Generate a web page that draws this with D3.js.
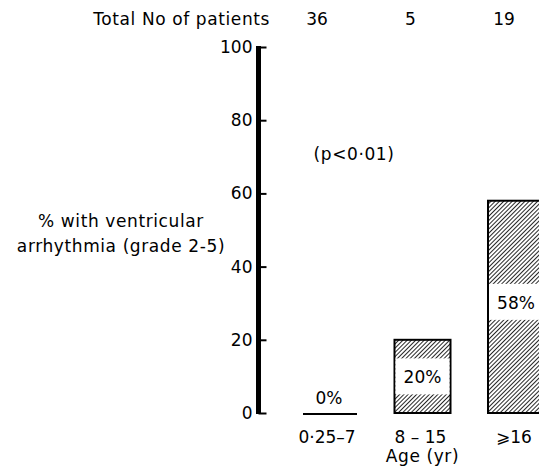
<!DOCTYPE html>
<html>
<head>
<meta charset="utf-8">
<script src="https://cdn.jsdelivr.net/npm/d3@7"></script>
<style>
	body { margin: 0; background: #fff; }
	text { font-family: "DejaVu Sans", sans-serif; fill: #000; font-size: 17px; }
	.words { letter-spacing: 0.6px; }
</style>
</head>
<body>
<div id="chart"></div>
<script>
// data
const ageGroups = ["0·25–7", "8 – 15", "⩾16"];
const patients = [36, 5, 19];
const arrhythmiaPct = [0, 20, 58];
const yTicks = [0, 20, 40, 60, 80, 100];

const width = 539;
const height = 466;

const svg = d3.select("#chart")
	.append("svg")
	.attr("width", width)
	.attr("height", height);

// hatch pattern
svg.append("defs")
	.append("pattern")
	.attr("id", "hatch")
	.attr("patternUnits", "userSpaceOnUse")
	.attr("width", 3)
	.attr("height", 3)
	.attr("patternTransform", "rotate(45)")
	.append("line")
	.attr("x1", 0).attr("y1", 0)
	.attr("x2", 0).attr("y2", 3)
	.attr("stroke", "#000")
	.attr("stroke-width", 1.7);

// scales
const xScale = d3.scalePoint()
	.domain(ageGroups)
	.range([329, 516]);
const barWidth = 56;

const yScale = d3.scaleLinear()
	.domain([0, 100])
	.range([413, 47]);

const axisX = 258.5;

// y axis
const yAxis = d3.axisRight(yScale)
	.tickValues(yTicks)
	.tickSize(8)
	.tickFormat("");
const gAxis = svg.append("g")
	.attr("transform", `translate(${axisX}, 0)`)
	.call(yAxis);
gAxis.select(".domain").remove();
gAxis.selectAll(".tick line").attr("stroke", "#000").attr("stroke-width", 2);
svg.append("line")
	.attr("x1", axisX).attr("x2", axisX)
	.attr("y1", yScale(100) - 1).attr("y2", yScale(0) + 1)
	.attr("stroke", "#000")
	.attr("stroke-width", 5);

// tick labels
svg.selectAll(".ylab")
	.data(yTicks)
	.enter()
	.append("text")
	.attr("class", "ylab")
	.attr("x", axisX - 6)
	.attr("y", (d) => yScale(d) + 6)
	.attr("text-anchor", "end")
	.text((d) => d);

// bars
const bars = ageGroups.map((g, i) => ({ g: g, v: arrhythmiaPct[i], n: patients[i] }));

bars.forEach((d) => {
	const x0 = xScale(d.g) - barWidth / 2;
	const yTop = yScale(d.v);
	const yBot = yScale(0);
	if (d.v === 0) {
		svg.append("line")
			.attr("x1", x0 + 2).attr("x2", x0 + barWidth)
			.attr("y1", yBot + 1).attr("y2", yBot + 1)
			.attr("stroke", "#000")
			.attr("stroke-width", 2);
		svg.append("text")
			.attr("x", xScale(d.g))
			.attr("y", yBot - 9)
			.attr("text-anchor", "middle")
			.text(d.v + "%");
		return;
	}
	svg.append("rect")
		.attr("x", x0)
		.attr("y", yTop)
		.attr("width", barWidth)
		.attr("height", yBot - yTop)
		.attr("fill", "url(#hatch)")
		.attr("stroke", "#000")
		.attr("stroke-width", 2);
	const mid = (yTop + yBot) / 2 - (d.v > 40 ? 5 : 0);
	svg.append("rect")
		.attr("x", x0 + 1)
		.attr("y", mid - 18)
		.attr("width", barWidth - 2)
		.attr("height", 36)
		.attr("fill", "#fff");
	svg.append("text")
		.attr("x", xScale(d.g))
		.attr("y", mid + 7)
		.attr("text-anchor", "middle")
		.text(d.v + "%");
});

// x labels
svg.selectAll(".xlab")
	.data(ageGroups)
	.enter()
	.append("text")
	.attr("class", "xlab")
	.attr("x", (d) => xScale(d) - 2)
	.attr("y", 443)
	.attr("text-anchor", "middle")
	.text((d) => d);

svg.append("text")
	.attr("class", "words")
	.attr("x", xScale(ageGroups[1]))
	.attr("y", 462)
	.attr("text-anchor", "middle")
	.text("Age (yr)");

// header
svg.append("text")
	.attr("class", "words")
	.attr("x", 270)
	.attr("y", 25)
	.attr("text-anchor", "end")
	.text("Total No of patients");

svg.selectAll(".nlab")
	.data(bars)
	.enter()
	.append("text")
	.attr("class", "nlab")
	.attr("x", (d) => xScale(d.g) - 12)
	.attr("y", 25)
	.attr("text-anchor", "middle")
	.text((d) => d.n);

// p value
svg.append("text")
	.attr("class", "words")
	.attr("x", 354)
	.attr("y", 160)
	.attr("text-anchor", "middle")
	.text("(p<0·01)");

// y title
svg.append("text")
	.attr("class", "words")
	.attr("x", 121)
	.attr("y", 227)
	.attr("text-anchor", "middle")
	.text("% with ventricular");
svg.append("text")
	.attr("class", "words")
	.attr("x", 121)
	.attr("y", 252)
	.attr("text-anchor", "middle")
	.text("arrhythmia (grade 2-5)");
</script>
</body>
</html>
